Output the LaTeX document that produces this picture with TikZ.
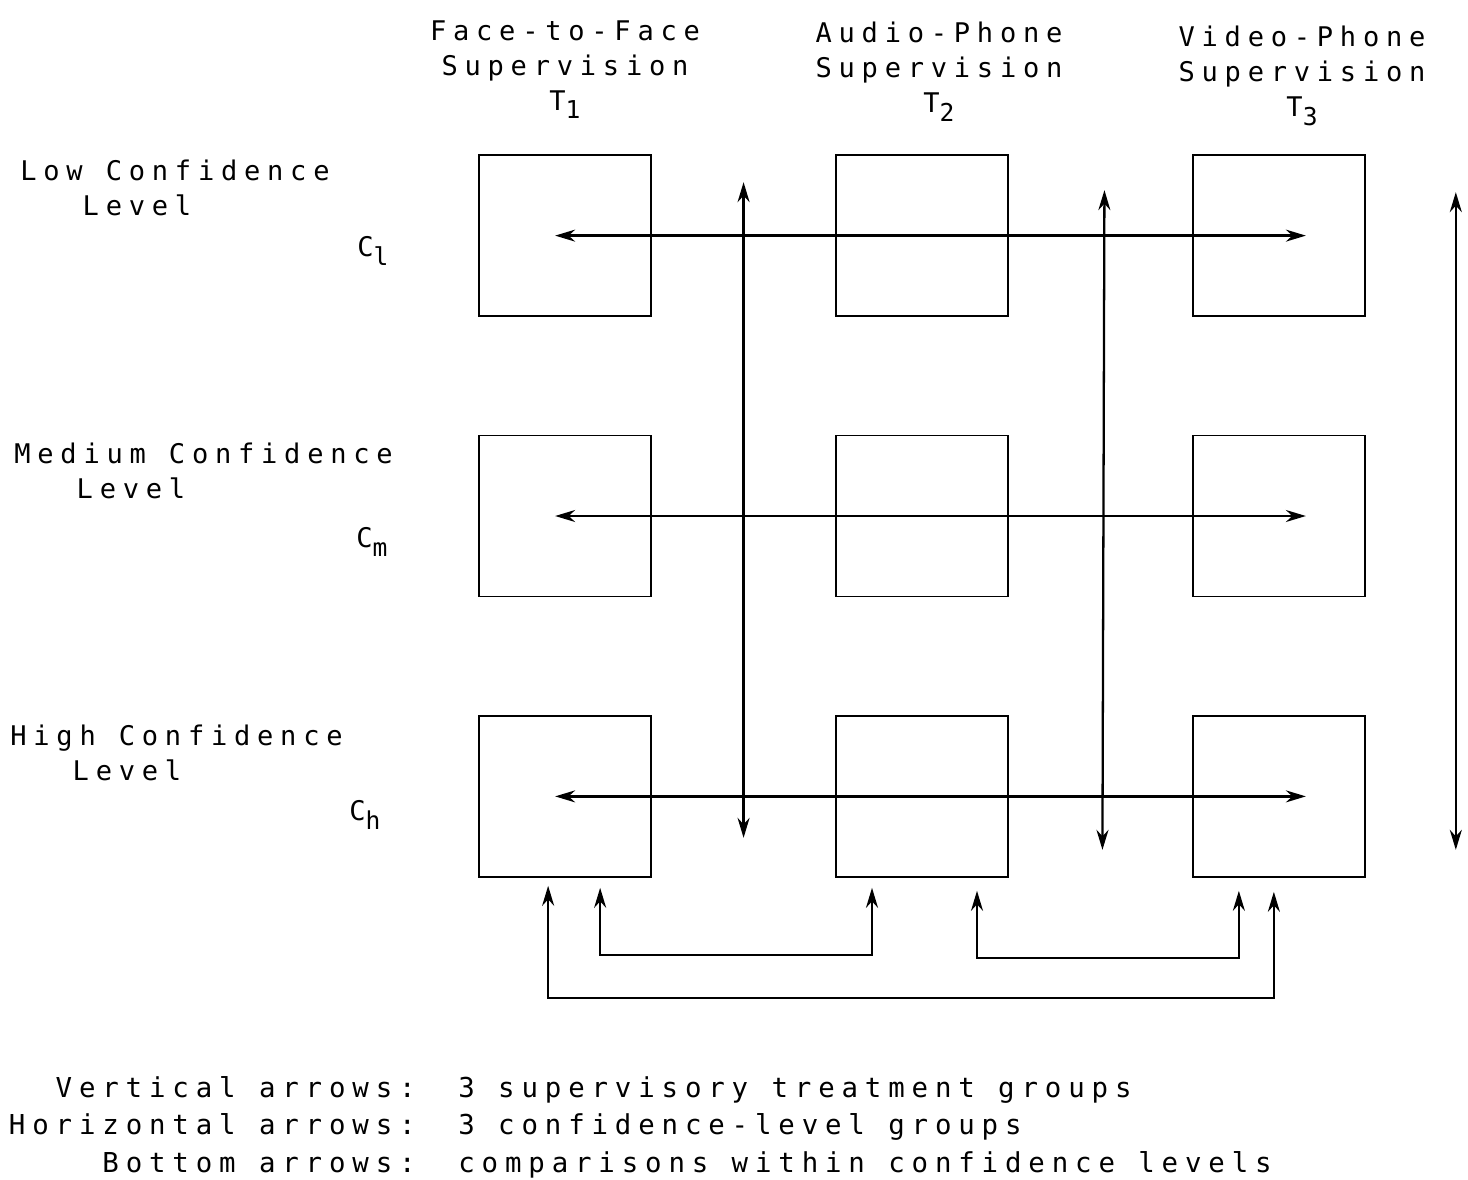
\documentclass[tikz,border=0pt]{standalone}
\usepackage{fontspec}
\usepackage{tikz}
\usetikzlibrary{positioning,arrows.meta,calc,matrix}
\newfontfamily\twfont{DejaVu Sans Mono}[LetterSpace=25]
\newcommand{\lowsub}[1]{\raisebox{-0.6ex}{\fontsize{14}{14}\selectfont #1}}
\tikzset{
  >={Stealth[length=4mm,width=2.4mm]},
  grpbox/.style={draw=black,line width=1.1pt,minimum width=3.44cm,
    minimum height=3.22cm,inner sep=0pt},
  cmp/.style={<->,line width=1.3pt},
  lbl/.style={font=\twfont\fontsize{15.4}{19.9}\selectfont,inner sep=0pt},
  keylbl/.style={font=\twfont\fontsize{15.6}{21.3}\selectfont,inner sep=0pt},
}
\begin{document}
\begin{tikzpicture}[x=0.02cm,y=-0.02cm]
  \useasboundingbox (0,0) rectangle (1468,1180);
  \matrix (m) at (922,516) [matrix of nodes, nodes in empty cells,
    row sep=2.35cm, column sep=3.66cm, nodes={grpbox}]{
    & & \\
    & & \\
    & & \\
  };
  % column heads
  \node[lbl,align=center,anchor=north] (t1) at (565,20)
    {Face-to-Face\\Supervision\\T\lowsub{1}};
  \node[lbl,align=center,anchor=north] (t2) at (939,22)
    {Audio-Phone\\Supervision\\T\lowsub{2}};
  \node[lbl,align=center,anchor=north] (t3) at (1302,26)
    {Video-Phone\\Supervision\\T\lowsub{3}};
  % row heads
  \node[lbl,align=left,anchor=north west] (c1) at (20,160)
    {Low Confidence\\\phantom{Low}Level};
  \node[lbl,align=left,anchor=north west] (c2) at (14,443)
    {Medium Confidence\\\phantom{Low}Level};
  \node[lbl,align=left,anchor=north west] (c3) at (10,725)
    {High Confidence\\\phantom{Low}Level};
  \node[lbl,anchor=north west] (cl) at (357,236) {C\lowsub{l}};
  \node[lbl,anchor=north west] (cm) at (356,527) {C\lowsub{m}};
  \node[lbl,anchor=north west] (ch) at (349,800) {C\lowsub{h}};
  % horizontal arrows
  \foreach \r in {1,2,3}
    \draw[cmp] ($(m-\r-1.center)+(-10,0)$) -- ($(m-\r-3.center)+(27,0)$);
  % vertical arrows
  \coordinate (va) at ($(m-1-1.north east)!0.5!(m-1-2.north west)$);
  \coordinate (vb) at ($(m-1-2.north east)!0.5!(m-1-3.north west)$);
  \coordinate (vc) at ($(m-1-3.north east)+(90,0)$);
  \draw[cmp] ($(va)+(0,28)$) -- ($(va |- m-3-1.south)+(0,-40)$);
  \draw[cmp] ($(vb)+(4,36)$) -- ($(vb |- m-3-1.south)+(2,-28)$);
  \draw[cmp] ($(vc)+(0,38)$) -- ($(vc |- m-3-1.south)+(0,-28)$);
  % bottom arrows
  \coordinate (b1) at ($(m-3-1.south)+(-17,8)$);
  \coordinate (b2) at ($(m-3-3.south)+(-5,14)$);
  \coordinate (b3) at ($(m-3-1.south)+(35,10)$);
  \coordinate (b4) at ($(m-3-2.south)+(-50,10)$);
  \coordinate (b5) at ($(m-3-2.south)+(55,13)$);
  \coordinate (b6) at ($(m-3-3.south)+(-40,13)$);
  \draw[cmp] (b1) -- ++(0,112) -| (b2);
  \draw[cmp] (b3) -- ++(0,67) -| (b4);
  \draw[cmp] (b5) -- ++(0,67) -| (b6);
  % key
  \node[keylbl,align=right,anchor=north east] (keyl) at (416,1076)
    {Vertical arrows:\\Horizontal arrows:\\Bottom arrows:};
  \node[keylbl,align=left,anchor=north west] (keyr) at (458,1076)
    {3 supervisory treatment groups\\3 confidence-level groups\\
     comparisons within confidence levels};
\end{tikzpicture}
\end{document}
